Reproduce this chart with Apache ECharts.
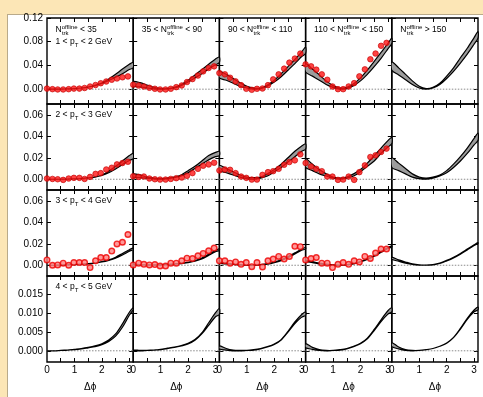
<!DOCTYPE html>
<html><head><meta charset="utf-8">
<script src="https://cdn.jsdelivr.net/npm/echarts@6/dist/echarts.min.js"></script>
<style>
html,body{margin:0;padding:0;background:#fce6b6;width:483px;height:397px;overflow:hidden}
#paper{position:absolute;left:7px;top:14px;width:476px;height:383px;background:#fff;border-left:1px solid #b9aa8a;border-top:1px solid #b9aa8a;box-sizing:border-box}
#chart{position:absolute;left:0;top:0;width:483px;height:397px}
</style></head>
<body><div id="paper"></div><div id="chart"></div>
<script>
// ---- data ----
const curveX = [0,0.25,0.5,0.75,1.0,1.25,1.5,1.75,2.0,2.25,2.5,2.75,3.0,3.14];
const dphi = [0.00,0.20,0.39,0.59,0.79,0.98,1.18,1.37,1.57,1.77,1.96,2.16,2.36,2.55,2.75,2.95];
const zeroLine = [[0,0],[3.1416,0]];

const xTickLabels = [0,1,2,3];
const xTicks = [0.5,1,1.5,2,2.5,3];
const yTicksRow1 = [0,0.04,0.08,0.12];
const yTicksRow2 = [0,0.02,0.04,0.06];
const yTicksRow3 = [0,0.02,0.04,0.06];
const yTicksRow4 = [0,0.005,0.010,0.015];

const multLabels = ['N_trk^offline < 35','35 < N_trk^offline < 90','90 < N_trk^offline < 110','110 < N_trk^offline < 150','N_trk^offline > 150'];
const ptLabels = ['1 < p_T < 2 GeV','2 < p_T < 3 GeV','3 < p_T < 4 GeV','4 < p_T < 5 GeV'];
const xName = 'Δϕ';

// row 1 (1<pT<2)
const lo11 = [0,0,0.0002,0.0005,0.001,0.002,0.0035,0.006,0.0095,0.0145,0.020,0.026,0.033,0.036];
const hi11 = [0,0,0.0002,0.0005,0.001,0.002,0.0037,0.0065,0.0105,0.017,0.025,0.034,0.042,0.045];
const lo12 = [0.005,0.004,0.002,0.0005,0,0.0005,0.002,0.006,0.012,0.019,0.026,0.034,0.041,0.045];
const hi12 = [0.013,0.011,0.007,0.003,0.001,0.001,0.003,0.008,0.015,0.024,0.033,0.042,0.051,0.054];
const lo13 = [0.019,0.015,0.010,0.005,0.002,0,0.001,0.005,0.012,0.021,0.032,0.043,0.055,0.060];
const hi13 = [0.030,0.025,0.018,0.011,0.005,0.002,0.002,0.007,0.015,0.026,0.038,0.050,0.063,0.071];
const lo14 = [0.029,0.022,0.015,0.008,0.003,0,0.001,0.006,0.014,0.025,0.038,0.052,0.068,0.077];
const hi14 = [0.043,0.034,0.024,0.014,0.006,0.002,0.003,0.009,0.019,0.032,0.047,0.062,0.077,0.086];
const lo15 = [0.032,0.024,0.016,0.008,0.002,0,0.002,0.008,0.018,0.030,0.044,0.059,0.076,0.086];
const hi15 = [0.046,0.036,0.025,0.014,0.005,0.001,0.003,0.010,0.022,0.036,0.053,0.069,0.087,0.097];
const p11 = [0.001,0.000,-0.0005,-0.0005,0.000,0.001,0.001,0.002,0.0045,0.007,0.010,0.013,0.016,0.018,0.020,0.0215];
const p12 = [0.0075,0.0063,0.0046,0.0024,0.0007,-0.0005,-0.0005,0.0007,0.0034,0.0063,0.012,0.017,0.023,0.030,0.0357,0.0385];
const p13 = [0.0272,0.0250,0.0193,0.0131,0.0068,0.0006,-0.0011,0.0006,0.0012,0.0068,0.0165,0.0250,0.0346,0.0448,0.0516,0.0601];
const p14 = [0.0419,0.0385,0.0329,0.0250,0.0159,0.0046,0.0,0.0,0.0046,0.0102,0.0216,0.0334,0.0504,0.0601,0.0731,0.0781];

// row 2 (2<pT<3)
const lo21 = [0,0,0,0.0002,0.0004,0.0007,0.0012,0.002,0.0035,0.006,0.0095,0.0135,0.0175,0.019];
const hi21 = [0,0,0,0.0002,0.0004,0.0007,0.0013,0.0022,0.004,0.0075,0.012,0.017,0.022,0.024];
const lo22 = [0.002,0.0015,0.001,0.0003,0,0.0005,0.0015,0.003,0.006,0.010,0.014,0.018,0.021,0.022];
const hi22 = [0.005,0.004,0.002,0.001,0.0005,0.001,0.002,0.004,0.008,0.012,0.017,0.022,0.025,0.026];
const lo23 = [0.008,0.006,0.004,0.002,0.0005,0,0.001,0.003,0.007,0.011,0.016,0.021,0.026,0.028];
const hi23 = [0.013,0.010,0.007,0.004,0.002,0.0015,0.002,0.005,0.009,0.014,0.020,0.026,0.031,0.033];
const lo24 = [0.011,0.008,0.005,0.003,0.001,0,0.001,0.003,0.007,0.012,0.017,0.024,0.030,0.033];
const hi24 = [0.019,0.014,0.009,0.005,0.002,0.001,0.002,0.005,0.009,0.015,0.022,0.029,0.036,0.039];
const lo25 = [0.011,0.008,0.005,0.002,0.0005,0,0.001,0.003,0.006,0.011,0.017,0.024,0.032,0.036];
const hi25 = [0.020,0.015,0.010,0.005,0.002,0.001,0.002,0.004,0.008,0.014,0.021,0.029,0.038,0.043];
const p21 = [0.0007,0.0003,0.0,-0.0006,0.0007,0.0013,0.0013,0.0003,0.0022,0.0050,0.0057,0.0091,0.0107,0.0138,0.0151,0.0163];
const p22 = [0.0028,0.0022,0.0025,0.0007,0.0,-0.0003,-0.0003,0.0003,0.001,0.0016,0.0032,0.0057,0.0097,0.0126,0.0138,0.0154];
const p23 = [0.0082,0.0091,0.0088,0.0057,0.0025,0.0013,-0.0003,-0.0003,0.0041,0.0066,0.0075,0.0097,0.0135,0.016,0.0176,0.0232];
const p24 = [0.0151,0.0119,0.0097,0.0075,0.0025,0.0025,-0.0006,-0.0003,0.0025,-0.0006,0.0066,0.0129,0.0207,0.0223,0.0254,0.0285];

// row 3 (3<pT<4)
const lo31 = [0,0,0.0001,0.0003,0.0006,0.0009,0.0013,0.002,0.003,0.0045,0.0065,0.0095,0.013,0.0145];
const hi31 = [0,0,0.0002,0.0004,0.0007,0.001,0.0015,0.0023,0.0035,0.005,0.0075,0.011,0.0145,0.016];
const lo32 = [0.0007,0.0004,0.0002,0.0001,0.0002,0.0005,0.001,0.0016,0.0023,0.0037,0.0058,0.0092,0.0125,0.0138];
const hi32 = [0.0012,0.0007,0.0004,0.0003,0.0004,0.0008,0.0013,0.002,0.0028,0.0043,0.0066,0.0102,0.0137,0.0152];
const lo33 = [0.002,0.0012,0.0007,0.0002,0,0,0.0003,0.001,0.0024,0.0043,0.007,0.0105,0.014,0.015];
const hi33 = [0.003,0.002,0.0012,0.0005,0.0002,0.0002,0.0006,0.0015,0.003,0.005,0.008,0.0115,0.015,0.0165];
const lo34 = [0.0035,0.0025,0.0013,0.0005,0,0,0.0003,0.0012,0.003,0.0053,0.0083,0.012,0.0155,0.017];
const hi34 = [0.0045,0.0033,0.002,0.001,0.0003,0.0002,0.0006,0.0017,0.0035,0.006,0.009,0.013,0.0165,0.018];
const lo35 = [0.0055,0.0037,0.002,0.0007,0.0001,0,0.0004,0.0016,0.004,0.0068,0.0103,0.0143,0.0183,0.0203];
const hi35 = [0.0075,0.005,0.003,0.0012,0.0003,0.0001,0.0006,0.002,0.0045,0.0075,0.011,0.015,0.019,0.021];
const p31 = [0.005,0.0,0.0003,0.0019,0.0,0.0025,0.0025,0.0025,-0.0022,0.0041,0.0072,0.0072,0.0132,0.0198,0.0214,0.0286];
const p32 = [0.0003,0.0019,0.0009,0.0003,0.0006,-0.0007,-0.0007,0.0019,0.0019,0.0041,0.0066,0.0063,0.0088,0.011,0.0135,0.016];
const p33 = [0.0041,0.0041,0.0019,0.0031,0.0009,0.0025,-0.0013,0.0025,-0.0016,0.0041,0.0057,0.0082,0.0057,0.0082,0.0176,0.0173];
const p34 = [0.005,0.0063,0.0072,0.0019,0.0019,-0.0022,0.0009,0.0025,0.0009,0.0041,0.0031,0.0082,0.0063,0.0113,0.0151,0.0151];

// row 4 (4<pT<5)
const lo41 = [0,0,0.0001,0.0002,0.0003,0.0005,0.0008,0.0011,0.0016,0.0025,0.0039,0.0063,0.0095,0.011];
const hi41 = [0,0,0.0001,0.0002,0.0004,0.0006,0.0009,0.0013,0.0019,0.0029,0.0045,0.0072,0.0103,0.0115];
const lo42 = [0,0,0.0001,0.0002,0.0003,0.0006,0.0009,0.0013,0.0018,0.0028,0.0045,0.0068,0.0091,0.0097];
const hi42 = [0.0002,0.0001,0.0001,0.0002,0.0004,0.0007,0.001,0.0014,0.002,0.003,0.0048,0.0075,0.0102,0.0113];
const lo43 = [0.0005,0.0002,0,0,0.0001,0.0002,0.0005,0.001,0.0017,0.0029,0.005,0.0073,0.009,0.0095];
const hi43 = [0.0013,0.0006,0.0002,0.0001,0.0001,0.0003,0.0006,0.0011,0.0018,0.003,0.0052,0.0077,0.0097,0.0104];
const lo44 = [0.0008,0.0004,0.0001,0,0.0001,0.0002,0.0005,0.0011,0.0019,0.0032,0.0054,0.0078,0.0098,0.0104];
const hi44 = [0.0019,0.0009,0.0003,0.0001,0.0001,0.0003,0.0006,0.0012,0.002,0.0034,0.0057,0.0083,0.0107,0.0115];
const lo45 = [0.0011,0.0005,0.0001,0,0.0001,0.0003,0.0006,0.0012,0.002,0.0035,0.0058,0.0084,0.0104,0.011];
const hi45 = [0.0022,0.001,0.0003,0.0001,0.0001,0.0003,0.0006,0.0012,0.0021,0.0036,0.006,0.0087,0.0109,0.0117];

// ---- assembly ----
const bands = [
  [[lo11,hi11],[lo12,hi12],[lo13,hi13],[lo14,hi14],[lo15,hi15]],
  [[lo21,hi21],[lo22,hi22],[lo23,hi23],[lo24,hi24],[lo25,hi25]],
  [[lo31,hi31],[lo32,hi32],[lo33,hi33],[lo34,hi34],[lo35,hi35]],
  [[lo41,hi41],[lo42,hi42],[lo43,hi43],[lo44,hi44],[lo45,hi45]]
];
const points = [
  [p11,p12,p13,p14,null],
  [p21,p22,p23,p24,null],
  [p31,p32,p33,p34,null],
  [null,null,null,null,null]
];
const yTicks = [yTicksRow1,yTicksRow2,yTicksRow3,yTicksRow4];
const yRanges = [[-0.025,0.12],[-0.01,0.07],[-0.01,0.07],[-0.003,0.02]];
const yDigits = [2,2,2,3];

const FONT = 'Liberation Sans';
const colLeft = 47, colW = 86.2, rowTop = 18, rowH = 86;

const grid = [], xAxis = [], yAxis = [], series = [], graphic = [];
let g = 0;
for (let r = 0; r < 4; r++) {
  for (let c = 0; c < 5; c++) {
    grid.push({left: colLeft + c*colW, top: rowTop + r*rowH, width: colW, height: rowH,
      show: true, borderColor: '#000', borderWidth: 1.4});
    const tickBase = {show: true, inside: true, length: 4, lineStyle: {color: '#000', width: 1}};
    const lineOff = {show: false, onZero: false};
    xAxis.push({type: 'value', gridIndex: g, min: 0, max: 3.1416, position: 'bottom',
      axisLine: lineOff, splitLine: {show: false},
      axisTick: Object.assign({customValues: xTicks}, tickBase),
      axisLabel: {show: r === 3, customValues: xTickLabels, color: '#000', fontSize: 10, fontFamily: FONT, margin: 3,
        formatter: v => String(Math.round(v))},
      name: r === 3 ? xName : '', nameLocation: 'middle', nameGap: 20,
      nameTextStyle: {color: '#000', fontSize: 10, fontFamily: FONT}});
    xAxis.push({type: 'value', gridIndex: g, min: 0, max: 3.1416, position: 'top',
      axisLine: lineOff, splitLine: {show: false},
      axisTick: Object.assign({customValues: xTicks}, tickBase),
      axisLabel: {show: false}});
    yAxis.push({type: 'value', gridIndex: g, min: yRanges[r][0], max: yRanges[r][1], position: 'left',
      axisLine: lineOff, splitLine: {show: false},
      axisTick: Object.assign({customValues: yTicks[r]}, tickBase),
      axisLabel: {show: c === 0, customValues: yTicks[r], color: '#000', fontSize: 10, fontFamily: FONT, margin: 4,
        formatter: v => v.toFixed(yDigits[r])}});
    yAxis.push({type: 'value', gridIndex: g, min: yRanges[r][0], max: yRanges[r][1], position: 'right',
      axisLine: lineOff, splitLine: {show: false},
      axisTick: Object.assign({customValues: yTicks[r]}, tickBase),
      axisLabel: {show: false}});

    // dotted zero reference line
    series.push({type: 'line', xAxisIndex: 2*g, yAxisIndex: 2*g, z: 1, symbol: 'none', silent: true,
      lineStyle: {color: '#8a8a8a', type: [1.5, 1.5], width: 1}, data: zeroLine});

    const lo = bands[r][c][0], hi = bands[r][c][1];
    const bandData = curveX.map((x, i) => [x, lo[i], hi[i]]);
    series.push({type: 'custom', xAxisIndex: 2*g, yAxisIndex: 2*g, z: 2, clip: true,
      encode: {x: 0, y: [1, 2]},
      data: bandData,
      renderItem: function (params, api) {
        if (params.dataIndex !== 0) return null;
        const pts = [];
        for (let i = 0; i < bandData.length; i++) pts.push(api.coord([bandData[i][0], bandData[i][2]]));
        for (let i = bandData.length - 1; i >= 0; i--) pts.push(api.coord([bandData[i][0], bandData[i][1]]));
        const cs = params.coordSys;
        return {type: 'polygon',
          shape: {points: pts, smooth: 0.3, smoothConstraint: [[cs.x - 2, cs.y - 2], [cs.x + cs.width + 2, cs.y + cs.height + 2]]},
          style: {fill: '#9c9c9c', stroke: '#000', lineWidth: 1.2}};
      }});
    const p = points[r][c];
    if (p) {
      const open = r === 2;
      series.push({type: 'scatter', xAxisIndex: 2*g, yAxisIndex: 2*g, z: 4, symbol: 'circle', symbolSize: 5.6,
        itemStyle: open ? {color: '#ff8080', borderColor: '#ee0000', borderWidth: 1.4}
                        : {color: '#ff1414', borderColor: '#c00000', borderWidth: 0.8},
        data: dphi.map((x, i) => [x, p[i]])});
    }
    g++;
  }
}

// ---- text labels ----
const ctx = document.createElement('canvas').getContext('2d');
ctx.font = '8.5px "' + FONT + '"';
const richBase = {
  a: {fontSize: 8.5, fontFamily: FONT, fill: '#000', lineHeight: 12},
  sup: {fontSize: 6, fontFamily: FONT, fill: '#000', lineHeight: 6, verticalAlign: 'top'},
  sub: {fontSize: 6, fontFamily: FONT, fill: '#000', lineHeight: 6, verticalAlign: 'bottom'}
};
multLabels.forEach((lab, c) => {
  const m = lab.match(/^(.*N)_trk\^offline(.*)$/);
  const pre = m[1], post = m[2];
  const x0 = colLeft + c*colW + 8.5, y0 = rowTop + 12;
  graphic.push({type: 'text', x: x0, y: y0, z: 10,
    style: {text: '{a|' + pre + '}{sup|offline}{a|' + post + '}', rich: richBase, verticalAlign: 'middle', align: 'left'}});
  graphic.push({type: 'text', x: x0 + ctx.measureText(pre).width + 0.3, y: y0 + 3.4, z: 10,
    style: {text: 'trk', fontSize: 6, fontFamily: FONT, fill: '#000', verticalAlign: 'middle', align: 'left'}});
});
ptLabels.forEach((lab, r) => {
  const m = lab.match(/^(.*p)_T(.*)$/);
  const x0 = colLeft + 8.5, y0 = rowTop + r*rowH + (r === 0 ? 24 : 11);
  graphic.push({type: 'text', x: x0, y: y0, z: 10,
    style: {text: '{a|' + m[1] + '}{sub|T}{a|' + m[2] + '}', rich: richBase, verticalAlign: 'middle', align: 'left'}});
});

const chart = echarts.init(document.getElementById('chart'), null, {renderer: 'canvas'});
chart.setOption({animation: false, backgroundColor: 'transparent', grid, xAxis, yAxis, series, graphic});
</script>
</body></html>
